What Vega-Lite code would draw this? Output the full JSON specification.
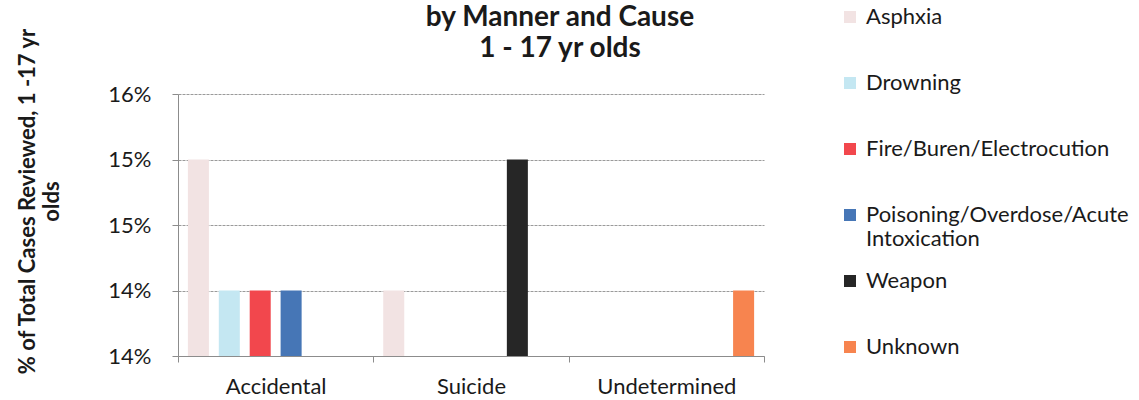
{
  "$schema": "https://vega.github.io/schema/vega-lite/v6.json",
  "autosize": {"type": "none"},
  "width": 586,
  "height": 262,
  "padding": {"left": 178, "top": 94, "right": 375, "bottom": 44},
  "background": "white",
  "title": {
    "text": ["by Manner and Cause", "1 - 17 yr olds"],
    "font": "Lato",
    "fontSize": 28,
    "fontWeight": "bold",
    "color": "#1a1a1a",
    "anchor": "middle",
    "frame": "group",
    "dx": 89,
    "offset": -57,
    "lineHeight": 31
  },
  "data": {
    "values": [
      {"manner": "Accidental", "cause": "Asphxia", "pct": 0.152},
      {"manner": "Accidental", "cause": "Drowning", "pct": 0.144},
      {"manner": "Accidental", "cause": "Fire/Buren/Electrocution", "pct": 0.144},
      {"manner": "Accidental", "cause": "Poisoning/Overdose/Acute Intoxication", "pct": 0.144},
      {"manner": "Suicide", "cause": "Asphxia", "pct": 0.144},
      {"manner": "Suicide", "cause": "Weapon", "pct": 0.152},
      {"manner": "Undetermined", "cause": "Unknown", "pct": 0.144}
    ]
  },
  "mark": {"type": "bar"},
  "encoding": {
    "x": {
      "field": "manner",
      "type": "nominal",
      "sort": ["Accidental", "Suicide", "Undetermined"],
      "scale": {"paddingInner": 0, "paddingOuter": 0},
      "axis": {
        "title": null,
        "labelAngle": 0,
        "labelFont": "Lato",
        "labelFontSize": 22,
        "labelColor": "#1a1a1a",
        "labelPadding": 14,
        "domainColor": "#8c8c8c",
        "tickColor": "#8c8c8c",
        "tickSize": 6,
        "tickBand": "extent",
        "grid": false
      }
    },
    "xOffset": {
      "field": "cause",
      "type": "nominal",
      "sort": ["Asphxia", "Drowning", "Fire/Buren/Electrocution", "Poisoning/Overdose/Acute Intoxication", "Weapon", "Unknown"],
      "scale": {"paddingInner": 0.32, "paddingOuter": 0.32}
    },
    "y": {
      "field": "pct",
      "type": "quantitative",
      "scale": {"domain": [0.14, 0.156], "zero": false, "nice": false},
      "axis": {
        "title": ["% of Total Cases Reviewed, 1 -17 yr", "olds"],
        "titleFont": "Lato",
        "titleFontSize": 22,
        "titleFontWeight": "bold",
        "titleColor": "#1a1a1a",
        "titleAngle": -90,
        "titleAlign": "center",
        "titleBaseline": "top",
        "titleX": -161,
        "titleY": 107,
        "titleLineHeight": 24,
        "values": [0.14, 0.144, 0.148, 0.152, 0.156],
        "format": ".0%",
        "labelFont": "Lato",
        "labelFontSize": 22,
        "labelColor": "#1a1a1a",
        "labelPadding": 21,
        "domainColor": "#8c8c8c",
        "tickColor": "#8c8c8c",
        "tickSize": 6,
        "grid": true,
        "gridColor": "#9a9a9a",
        "gridDash": [3, 1],
        "gridWidth": 1
      }
    },
    "y2": {"datum": 0.14},
    "color": {
      "field": "cause",
      "type": "nominal",
      "sort": ["Asphxia", "Drowning", "Fire/Buren/Electrocution", "Poisoning/Overdose/Acute Intoxication", "Weapon", "Unknown"],
      "scale": {
        "domain": ["Asphxia", "Drowning", "Fire/Buren/Electrocution", "Poisoning/Overdose/Acute Intoxication", "Weapon", "Unknown"],
        "range": ["#f2e3e3", "#c4e7f2", "#f2474d", "#4676b6", "#262626", "#f7844f"]
      },
      "legend": {
        "title": null,
        "orient": "none",
        "legendX": 661,
        "legendY": -88,
        "symbolType": "square",
        "symbolSize": 144,
        "symbolStrokeWidth": 0,
        "labelFont": "Lato",
        "labelFontSize": 22,
        "labelColor": "#1a1a1a",
        "labelOffset": 5,
        "labelLimit": 400,
        "gridAlign": "all",
        "rowPadding": 20,
        "labelExpr": "datum.label == 'Poisoning/Overdose/Acute Intoxication' ? ['Poisoning/Overdose/Acute', 'Intoxication'] : datum.label"
      }
    }
  },
  "config": {"view": {"stroke": null}}
}
